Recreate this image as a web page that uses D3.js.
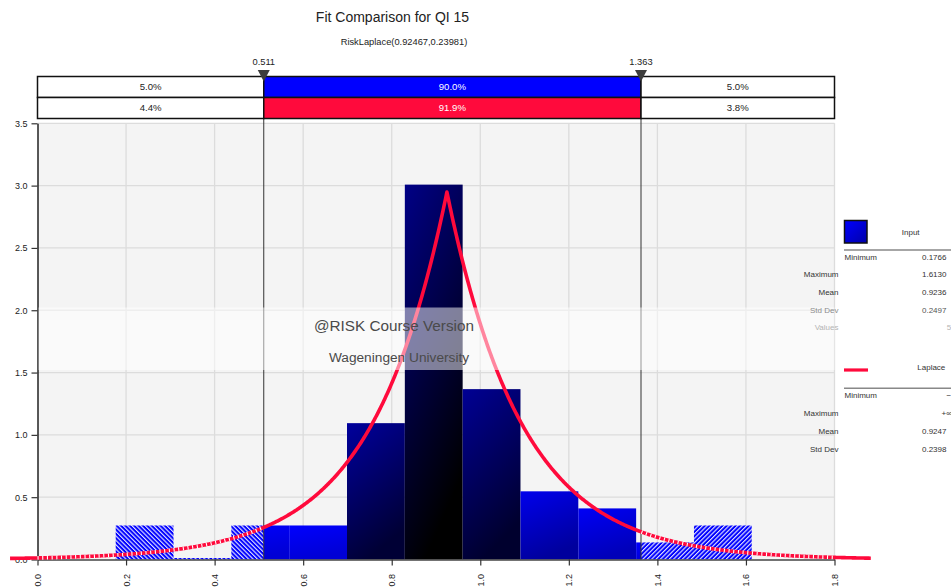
<!DOCTYPE html>
<html>
<head>
<meta charset="utf-8">
<script src="https://cdn.jsdelivr.net/npm/d3@7"></script>
<style>
  html, body { margin: 0; padding: 0; background: #ffffff; }
  svg { display: block; font-family: "Liberation Sans", Arial, sans-serif; }
</style>
</head>
<body>
<svg id="chart" width="951" height="587"></svg>
<script>
// ---- data -------------------------------------------------------------
const chartTitle = "Fit Comparison for QI 15";
const fitLabel = "RiskLaplace(0.92467,0.23981)";

// histogram of the input sample (56 values), density scale
const binEdges = [0.1766, 0.3072, 0.4378, 0.5684, 0.6990, 0.8296, 0.9602, 1.0908, 1.2214, 1.3520, 1.4826, 1.6130];
const binDensity = [0.273, 0.0, 0.273, 0.273, 1.094, 3.008, 1.367, 0.547, 0.410, 0.137, 0.273];

// fitted Laplace distribution (location, standard deviation)
const laplaceMu = 0.92467;
const laplaceSigma = 0.23981;
const curveRange = [-0.062, 1.882];

// delimiters and the probabilities in each band
const delimiters = [0.511, 1.363];
const delimiterLabels = ["0.511", "1.363"];
const inputPct = ["5.0%", "90.0%", "5.0%"];
const fitPct = ["4.4%", "91.9%", "3.8%"];

// axes
const xTicks = [0.0, 0.2, 0.4, 0.6, 0.8, 1.0, 1.2, 1.4, 1.6, 1.8];
const yTicks = [0.0, 0.5, 1.0, 1.5, 2.0, 2.5, 3.0, 3.5];

// legend statistics
const inputStatNames = ["Minimum", "Maximum", "Mean", "Std Dev", "Values"];
const inputStatValues = ["0.1766", "1.6130", "0.9236", "0.2497", "56"];
const fitStatNames = ["Minimum", "Maximum", "Mean", "Std Dev"];
const fitStatValues = ["\u2212\u221E", "+\u221E", "0.9247", "0.2398"];

// ---- layout -------------------------------------------------------------
const svg = d3.select("#chart");
const plot = { left: 37.5, right: 834.5, top: 123.3, bottom: 559.5 };
const x = d3.scaleLinear().domain([0, 1.8]).range([plot.left, plot.right]);
const y = d3.scaleLinear().domain([0, 3.5]).range([plot.bottom, plot.top]);

const RED = "#ff0a3c";
const BLUE = "#0000ff";
const defs = svg.append("defs");

// hatch patterns for the tails
function hatch(id, angle) {
  const p = defs.append("pattern")
    .attr("id", id).attr("patternUnits", "userSpaceOnUse")
    .attr("width", 3.1).attr("height", 3.1)
    .attr("patternTransform", `rotate(${angle})`);
  p.append("rect").attr("width", 3.1).attr("height", 3.1).attr("fill", BLUE);
  p.append("line").attr("x1", 0.6).attr("x2", 0.6).attr("y1", 0).attr("y2", 3.1)
    .attr("stroke", "#ffffff").attr("stroke-width", 1.0);
}
hatch("hatchLeft", -45);
hatch("hatchRight", 45);

// clip regions: inside the delimiters, left tail, right tail
const xlo = x(delimiters[0]), xhi = x(delimiters[1]);
defs.append("clipPath").attr("id", "clipMid")
  .append("rect").attr("x", xlo).attr("y", 0).attr("width", xhi - xlo).attr("height", 587);
defs.append("clipPath").attr("id", "clipLeft")
  .append("rect").attr("x", 0).attr("y", 0).attr("width", xlo).attr("height", 587);
defs.append("clipPath").attr("id", "clipRight")
  .append("rect").attr("x", xhi).attr("y", 0).attr("width", 951 - xhi).attr("height", 587);

// bar shading gets darker as bars get taller
const topShade = d3.scaleLinear().domain([0.27, 0.55, 1.1, 1.37, 3.0])
  .range(["#0000ff", "#0000ec", "#00009c", "#000094", "#000086"]).clamp(true);
const bottomShade = d3.scaleLinear().domain([0.27, 0.55, 1.1, 1.37, 3.0])
  .range(["#0000d6", "#00009c", "#000034", "#00002e", "#000000"]).clamp(true);

const bins = binDensity.map((d, i) => ({ x0: binEdges[i], x1: binEdges[i + 1], h: d, i }));
bins.forEach(b => {
  const g = defs.append("linearGradient").attr("id", "barGrad" + b.i)
    .attr("x1", 0).attr("y1", 0).attr("x2", 0.35).attr("y2", 1);
  g.append("stop").attr("offset", 0).attr("stop-color", topShade(b.h));
  g.append("stop").attr("offset", 1).attr("stop-color", bottomShade(b.h));
});
const legendGrad = defs.append("linearGradient").attr("id", "legendGrad")
  .attr("x1", 0).attr("y1", 0).attr("x2", 1).attr("y2", 1);
legendGrad.append("stop").attr("offset", 0).attr("stop-color", "#0000ff");
legendGrad.append("stop").attr("offset", 1).attr("stop-color", "#0000a8");

// ---- plot background and grid ------------------------------------------
svg.append("rect")
  .attr("x", plot.left).attr("y", plot.top)
  .attr("width", plot.right - plot.left).attr("height", plot.bottom - plot.top)
  .attr("fill", "#f4f4f4");

svg.append("g").selectAll("line").data(xTicks.slice(1)).join("line")
  .attr("x1", d => x(d)).attr("x2", d => x(d))
  .attr("y1", plot.top).attr("y2", plot.bottom)
  .attr("stroke", "#dcdcdc").attr("stroke-width", 1.3);
svg.append("g").selectAll("line").data(yTicks.slice(1)).join("line")
  .attr("x1", plot.left).attr("x2", plot.right)
  .attr("y1", d => y(d)).attr("y2", d => y(d))
  .attr("stroke", "#dcdcdc").attr("stroke-width", 1.3);

// ---- histogram ---------------------------------------------------------
const barRect = sel => sel
  .attr("x", d => x(d.x0)).attr("width", d => x(d.x1) - x(d.x0))
  .attr("y", d => d.h > 0 ? y(d.h) : plot.bottom - 1.5)
  .attr("height", d => d.h > 0 ? y(0) - y(d.h) : 1.5);

svg.append("g").attr("clip-path", "url(#clipMid)")
  .selectAll("rect").data(bins).join("rect").call(barRect)
  .attr("fill", d => `url(#barGrad${d.i})`);
svg.append("g").attr("clip-path", "url(#clipLeft)")
  .selectAll("rect").data(bins).join("rect").call(barRect)
  .attr("fill", "url(#hatchLeft)");
svg.append("g").attr("clip-path", "url(#clipRight)")
  .selectAll("rect").data(bins).join("rect").call(barRect)
  .attr("fill", "url(#hatchRight)");

// ---- axes ----------------------------------------------------------------
const xAxis = svg.append("g").attr("transform", `translate(0,${plot.bottom})`)
  .call(d3.axisBottom(x).tickValues(xTicks).tickFormat(d3.format(".1f")).tickSizeInner(6).tickSizeOuter(0));
xAxis.select(".domain").attr("stroke", "#444").attr("stroke-width", 1.5);
xAxis.selectAll(".tick line").attr("stroke", "#333").attr("stroke-width", 1.2);
xAxis.selectAll(".tick text")
  .attr("font-size", 9).attr("fill", "#222").attr("font-family", "Liberation Sans, Arial, sans-serif")
  .attr("text-anchor", "end").attr("dy", "0.33em")
  .attr("transform", "translate(0,11) rotate(-90)")
  .attr("x", -3.5).attr("y", 0);

const yAxis = svg.append("g").attr("transform", `translate(${plot.left},0)`)
  .call(d3.axisLeft(y).tickValues(yTicks).tickFormat(d3.format(".1f")).tickSizeInner(6).tickSizeOuter(0));
yAxis.select(".domain").attr("stroke", "#222").attr("stroke-width", 1.5);
yAxis.selectAll(".tick line").attr("stroke", "#333").attr("stroke-width", 1.2);
yAxis.selectAll(".tick text")
  .attr("font-size", 9).attr("fill", "#222").attr("font-family", "Liberation Sans, Arial, sans-serif")
  .attr("x", -10);

// ---- delimiter lines, markers and probability bands --------------------
const band = { top: 76.5, mid: 97.5, bottom: 118.5 };
svg.append("g").selectAll("line").data(delimiters).join("line")
  .attr("x1", d => x(d)).attr("x2", d => x(d))
  .attr("y1", band.top).attr("y2", plot.bottom)
  .attr("stroke", "#333").attr("stroke-width", 1);

const cells = [
  { x0: plot.left, x1: xlo },
  { x0: xlo, x1: xhi },
  { x0: xhi, x1: plot.right }
];
const rowsData = [
  { y0: band.top, y1: band.mid, labels: inputPct, fill: BLUE },
  { y0: band.mid, y1: band.bottom, labels: fitPct, fill: RED }
];
rowsData.forEach(r => {
  cells.forEach((c, i) => {
    svg.append("rect")
      .attr("x", c.x0).attr("y", r.y0)
      .attr("width", c.x1 - c.x0).attr("height", r.y1 - r.y0)
      .attr("fill", i === 1 ? r.fill : "#ffffff")
      .attr("stroke", "#111").attr("stroke-width", 1.5);
    svg.append("text")
      .attr("x", (c.x0 + c.x1) / 2).attr("y", (r.y0 + r.y1) / 2 + 3.4)
      .attr("text-anchor", "middle").attr("font-size", 9.6)
      .attr("fill", i === 1 ? "#ffffff" : "#222")
      .text(r.labels[i]);
  });
});

svg.append("g").selectAll("path").data(delimiters).join("path")
  .attr("d", d => `M${x(d) - 6},70 L${x(d) + 6},70 L${x(d)},81.5 Z`)
  .attr("fill", "#3c3c3c");
svg.append("g").selectAll("text").data(delimiters).join("text")
  .attr("x", d => x(d)).attr("y", 64.5)
  .attr("text-anchor", "middle").attr("font-size", 9.3).attr("fill", "#222")
  .text((d, i) => delimiterLabels[i]);

// ---- fitted Laplace density ------------------------------------------
const b = laplaceSigma / Math.SQRT2;
const laplacePdf = v => Math.exp(-Math.abs(v - laplaceMu) / b) / (2 * b);
const xs = d3.range(curveRange[0], curveRange[1], 0.002).concat([laplaceMu, curveRange[1]]).sort(d3.ascending);
const curvePts = xs.map(v => [v, laplacePdf(v)]);
const line = d3.line().x(d => x(d[0])).y(d => y(d[1]));

svg.append("path").datum(curvePts)
  .attr("d", line).attr("fill", "none")
  .attr("stroke", RED).attr("stroke-width", 3.6).attr("stroke-linejoin", "round");

// tails inside the plot are drawn broken
const tailSegments = [
  curvePts.filter(p => p[0] >= 0 && p[0] <= delimiters[0]),
  curvePts.filter(p => p[0] >= delimiters[1] && p[0] <= 1.8)
];
svg.append("g").selectAll("path").data(tailSegments).join("path")
  .attr("d", line).attr("fill", "none")
  .attr("stroke", "#ffffff").attr("stroke-width", 3.8)
  .attr("stroke-dasharray", "1.1 3.6");

// ---- course watermark band (over the plot area) ---------------------------
svg.append("rect")
  .attr("x", plot.left + 1).attr("y", 307.5).attr("width", plot.right - plot.left - 1).attr("height", 62.5)
  .attr("fill", "#ffffff").attr("fill-opacity", 0.5);
svg.append("text").attr("x", 394).attr("y", 331)
  .attr("text-anchor", "middle").attr("font-size", 15.3).attr("fill", "#4a4a4a")
  .text("@RISK Course Version");
svg.append("text").attr("x", 399).attr("y", 362.3)
  .attr("text-anchor", "middle").attr("font-size", 13.7).attr("fill", "#4a4a4a")
  .text("Wageningen University");

// ---- title ------------------------------------------------------------
svg.append("text").attr("x", 392.5).attr("y", 21.6)
  .attr("text-anchor", "middle").attr("font-size", 14).attr("fill", "#222")
  .text(chartTitle);
svg.append("text").attr("x", 404).attr("y", 44.5)
  .attr("text-anchor", "middle").attr("font-size", 9.3).attr("fill", "#222")
  .text(fitLabel);

// ---- legend ---------------------------------------------------------------
const lg = svg.append("g").attr("font-size", 8).attr("fill", "#333");
lg.append("rect").attr("x", 844.5).attr("y", 220.5).attr("width", 22.5).attr("height", 22.5)
  .attr("fill", "url(#legendGrad)").attr("stroke", "#111").attr("stroke-width", 1.5);
lg.append("text").attr("x", 910.7).attr("y", 235).attr("text-anchor", "middle").text("Input");
lg.append("line").attr("x1", 844).attr("x2", 951).attr("y1", 250).attr("y2", 250)
  .attr("stroke", "#888").attr("stroke-width", 1.5);

const inputRowsY = [260, 277, 295, 312.5, 330];
const inputRowFill = ["#333", "#333", "#333", "#8c8c8c", "#b4b4b4"];
inputStatNames.forEach((n, i) => {
  lg.append("text")
    .attr("x", i === 0 ? 844.5 : 838.5).attr("y", inputRowsY[i])
    .attr("text-anchor", i === 0 ? "start" : "end").attr("fill", inputRowFill[i]).text(n);
  lg.append("text")
    .attr("x", i === 4 ? 946.7 : 922).attr("y", inputRowsY[i])
    .attr("fill", i === 3 ? "#555" : inputRowFill[i]).text(inputStatValues[i]);
});

lg.append("line").attr("x1", 844).attr("x2", 868).attr("y1", 370).attr("y2", 370)
  .attr("stroke", RED).attr("stroke-width", 3.2);
lg.append("text").attr("x", 931.3).attr("y", 369.5).attr("text-anchor", "middle").text("Laplace");
lg.append("line").attr("x1", 844).attr("x2", 951).attr("y1", 388.3).attr("y2", 388.3)
  .attr("stroke", "#888").attr("stroke-width", 1.5);

const fitRowsY = [398, 416, 434, 451.5];
const fitValueX = [946.5, 941.5, 922, 922];
fitStatNames.forEach((n, i) => {
  lg.append("text")
    .attr("x", i === 0 ? 844.5 : 838.5).attr("y", fitRowsY[i])
    .attr("text-anchor", i === 0 ? "start" : "end").text(n);
  lg.append("text").attr("x", fitValueX[i]).attr("y", fitRowsY[i]).text(fitStatValues[i]);
});
</script>
</body>
</html>
